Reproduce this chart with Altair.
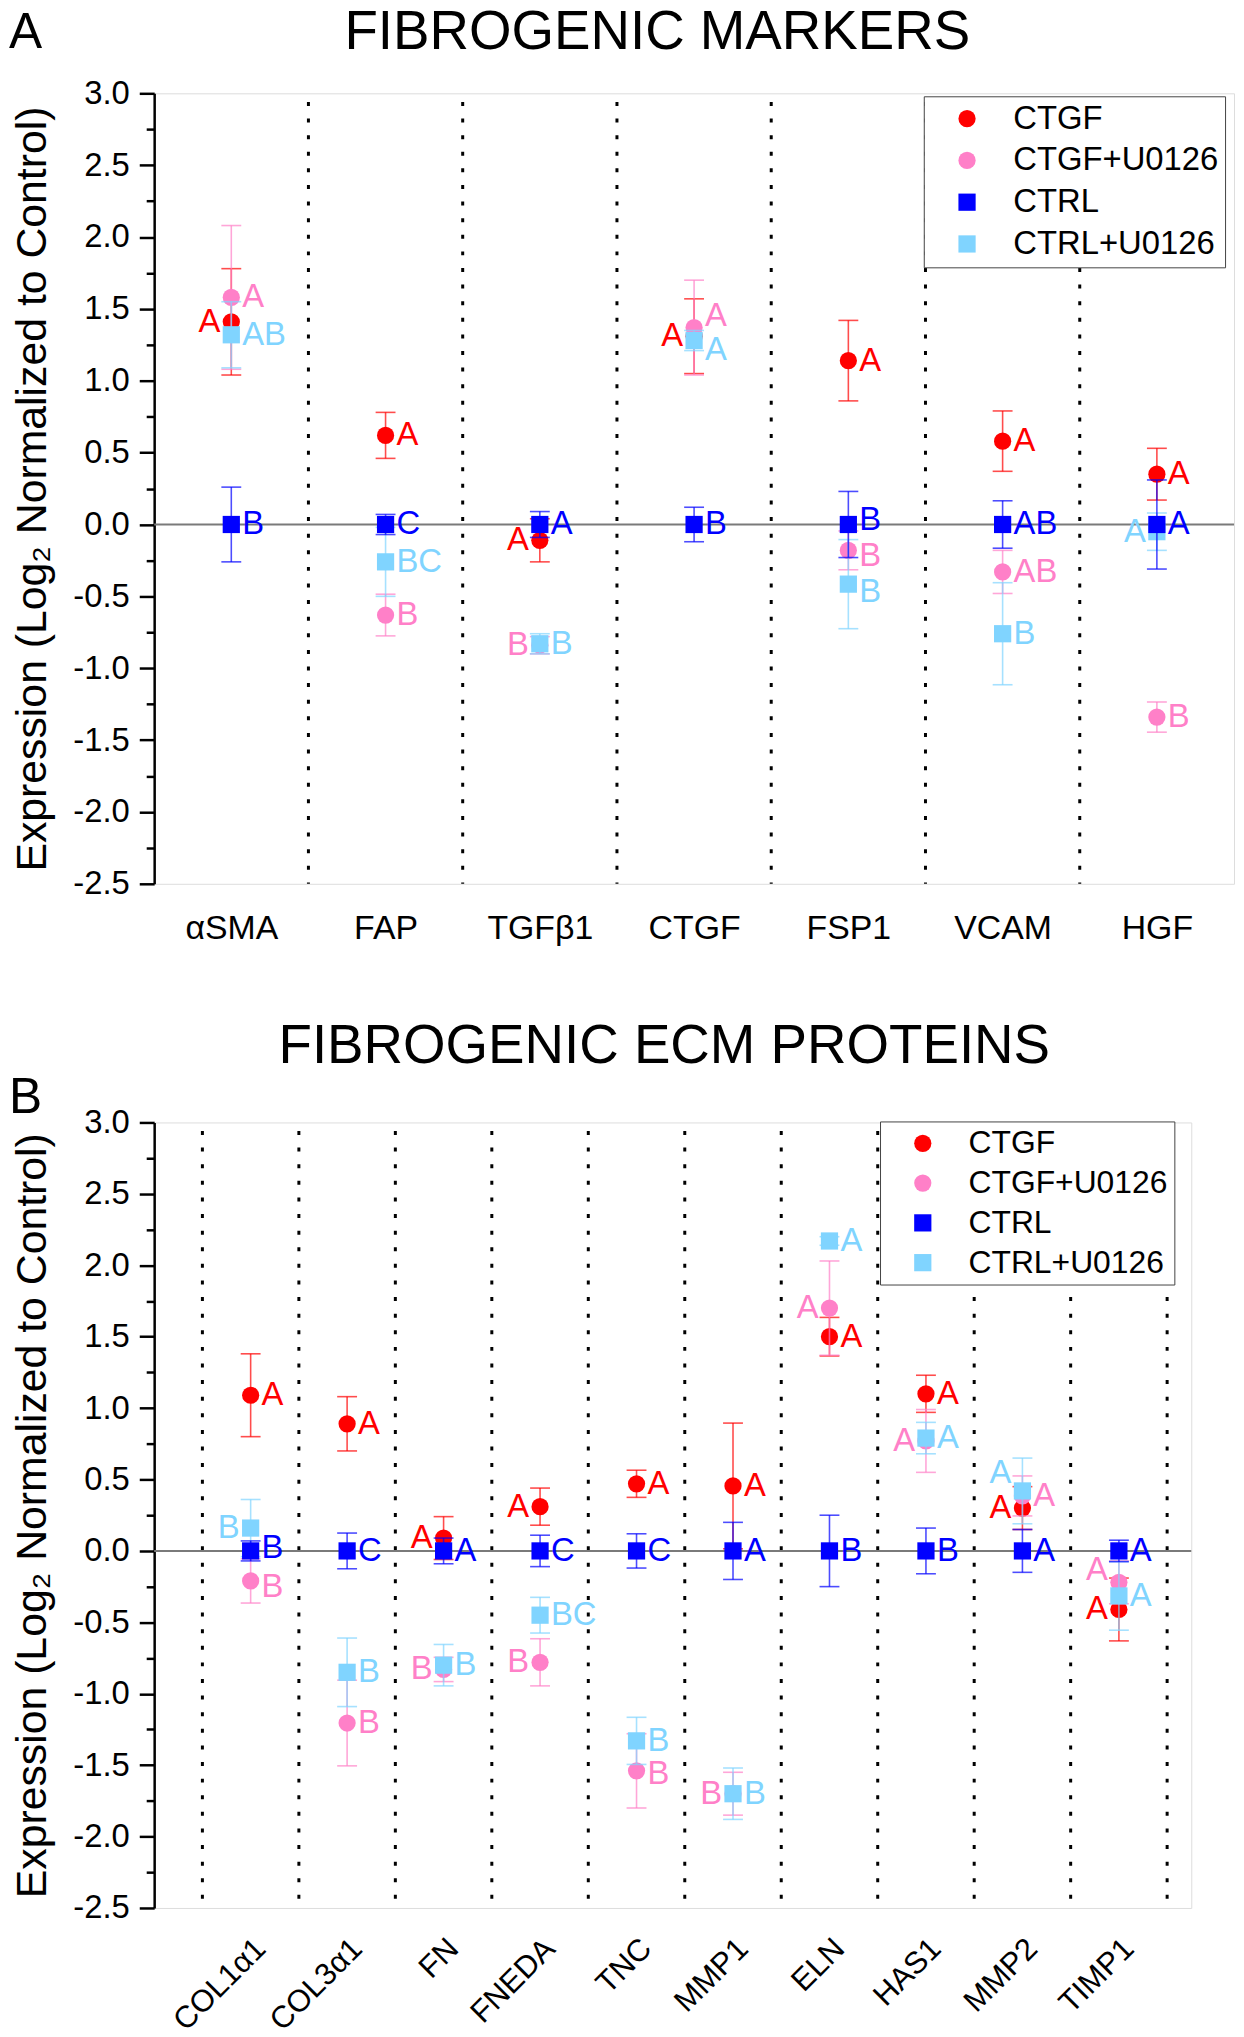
import altair as alt
import pandas as pd

FONT = "Liberation Sans"

# ---------------- series definitions ----------------
series_names = ["CTGF", "CTGF+U0126", "CTRL", "CTRL+U0126"]
series_colors = ["#FF0000", "#FF80C8", "#0000FF", "#80D4FF"]
series_shapes = ["circle", "circle", "square", "square"]
draw_order = ["CTGF", "CTGF+U0126", "CTRL+U0126", "CTRL"]

# ---------------- Panel A : fibrogenic markers ----------------
genes_a = ["αSMA", "FAP", "TGFβ1", "CTGF", "FSP1", "VCAM", "HGF"]
a_ctgf = [1.41, 0.62, -0.11, 1.31, 1.14, 0.58, 0.35]
a_ctgf_err = [0.37, 0.16, 0.15, 0.26, 0.28, 0.21, 0.18]
a_ctgfu = [1.58, -0.63, -0.84, 1.37, -0.18, -0.33, -1.34]
a_ctgfu_err = [0.50, 0.145, 0.06, 0.33, 0.135, 0.15, 0.105]
a_ctrl = [0.0, 0.0, 0.0, 0.0, 0.0, 0.0, 0.0]
a_ctrl_err = [0.26, 0.07, 0.09, 0.12, 0.23, 0.165, 0.31]
a_ctrlu = [1.32, -0.26, -0.83, 1.28, -0.415, -0.76, -0.05]
a_ctrlu_err = [0.23, 0.24, 0.07, 0.07, 0.31, 0.355, 0.13]

a_ctgf_sig = ["A", "A", "A", "A", "A", "A", "A"]
a_ctgfu_sig = ["A", "B", "B", "A", "B", "AB", "B"]
a_ctrl_sig = ["B", "C", "A", "B", "B", "AB", "A"]
a_ctrlu_sig = ["AB", "BC", "B", "A", "B", "B", "A"]

# ---------------- Panel B : fibrogenic ECM proteins ----------------
genes_b = ["COL1α1", "COL3α1", "FN", "FNEDA", "TNC", "MMP1", "ELN", "HAS1", "MMP2", "TIMP1"]
b_ctgf = [1.09, 0.89, 0.09, 0.31, 0.47, 0.455, 1.50, 1.10, 0.30, -0.41]
b_ctgf_err = [0.29, 0.19, 0.15, 0.13, 0.095, 0.44, 0.135, 0.13, 0.15, 0.22]
b_ctgfu = [-0.21, -1.205, -0.83, -0.78, -1.54, -1.70, 1.70, 0.77, 0.385, -0.22]
b_ctgfu_err = [0.155, 0.30, 0.085, 0.165, 0.26, 0.15, 0.33, 0.22, 0.14, 0.15]
b_ctrl = [0.0, 0.0, 0.0, 0.0, 0.0, 0.0, 0.0, 0.0, 0.0, 0.0]
b_ctrl_err = [0.07, 0.125, 0.09, 0.11, 0.12, 0.20, 0.25, 0.16, 0.15, 0.075]
b_ctrlu = [0.16, -0.85, -0.80, -0.45, -1.33, -1.70, 2.17, 0.79, 0.42, -0.315]
b_ctrlu_err = [0.20, 0.24, 0.145, 0.125, 0.165, 0.18, 0.03, 0.11, 0.23, 0.24]

b_ctgf_sig = ["A", "A", "A", "A", "A", "A", "A", "A", "A", "A"]
b_ctgfu_sig = ["B", "B", "B", "B", "B", "B", "A", "A", "A", "A"]
b_ctrl_sig = ["B", "C", "A", "C", "C", "A", "B", "B", "A", "A"]
b_ctrlu_sig = ["B", "B", "B", "BC", "B", "B", "A", "A", "A", "A"]

# ---------------- label placement (layout only) ----------------
sides_a = {
    "CTGF": ["L", "R", "L", "L", "R", "R", "R"],
    "CTGF+U0126": ["R", "R", "L", "R", "R", "R", "R"],
    "CTRL": ["R"] * 7,
    "CTRL+U0126": ["R", "R", "R", "R", "R", "R", "L"],
}
# label nudges in pixels (positive = downwards)
nudge_a = {("CTGF", "CTGF+U0126"): -12, ("CTGF", "CTRL+U0126"): 10,
           ("FSP1", "CTGF+U0126"): 6, ("FSP1", "CTRL"): -4, ("FSP1", "CTRL+U0126"): 8}
sides_b = {
    "CTGF": ["R", "R", "L", "L", "R", "R", "R", "R", "L", "L"],
    "CTGF+U0126": ["R", "R", "L", "L", "R", "L", "L", "L", "R", "L"],
    "CTRL": ["R"] * 10,
    "CTRL+U0126": ["L", "R", "R", "R", "R", "R", "R", "R", "L", "R"],
}
nudge_b = {("MMP2", "CTRL+U0126"): -18, ("TIMP1", "CTGF+U0126"): -12,
           ("COL1α1", "CTGF+U0126"): 6, ("COL1α1", "CTRL"): -3,
           ("TNC", "CTGF+U0126"): 3}

color_of = dict(zip(series_names, series_colors))


def build_df(genes, positions, vals, errs, sigs, sides, nudges, px_per_unit):
    rows = []
    for s in series_names:
        for i, g in enumerate(genes):
            v = vals[s][i]
            e = errs[s][i]
            rows.append(dict(gene=g, pos=positions[i], series=s, value=v,
                             lo=v - e, hi=v + e, sig=sigs[s][i],
                             side=sides[s][i],
                             ly=v - nudges.get((g, s), 0) / px_per_unit))
    return pd.DataFrame(rows)


def panel(df, genes, positions, dividers, x_max, width, height, title,
          title_x, title_y, letter, letter_y, legend_x, legend_y,
          legend_font, label_angle, label_font, label_padding, label_offset, row_pad):
    xscale = alt.Scale(domain=[0, x_max], nice=False, zero=False)
    yscale = alt.Scale(domain=[-2.5, 3.0], nice=False, zero=False)
    names_js = "[" + ",".join("'" + g + "'" for g in genes) + "]"
    pos_js = "[" + ",".join(str(p) for p in positions) + "]"
    x_axis = alt.Axis(
        values=positions, labelExpr=f"{names_js}[indexof({pos_js}, datum.value)]",
        domain=False, ticks=False, tickSize=0, grid=False, title=None,
        labelFontSize=label_font, labelFont=FONT, labelColor="black",
        labelPadding=label_padding, labelAngle=label_angle,
        labelAlign="right" if label_angle else "center",
        labelBaseline="middle" if label_angle else "top",
        labelOffset=label_offset, labelOverlap=False, labelFlush=False)
    major = "abs(datum.value*2 - round(datum.value*2)) < 0.001"
    y_axis = alt.Axis(
        values=[-2.5, -2.25, -2.0, -1.75, -1.5, -1.25, -1.0, -0.75, -0.5, -0.25,
                0.0, 0.25, 0.5, 0.75, 1.0, 1.25, 1.5, 1.75, 2.0, 2.25, 2.5, 2.75, 3.0],
        labelExpr=f"({major}) ? ((datum.value < 0 ? '-' : '') + format(abs(datum.value), '.1f')) : ''",
        tickSize={"condition": {"test": major, "value": 15}, "value": 8},
        tickWidth=2.5, tickColor="black", domainColor="black", domainWidth=2.5,
        grid=False, labelFontSize=33, labelFont=FONT, labelColor="black",
        labelPadding=10, labelOverlap=False, labelFlush=False,
        title="Expression (Log₂ Normalized to Control)", titleFontSize=43,
        titleFont=FONT, titleFontWeight="normal", titleColor="black",
        titlePadding=18)

    def X(field):
        return alt.X(field, type="quantitative", scale=xscale, axis=x_axis)

    def Y(field):
        return alt.Y(field, type="quantitative", scale=yscale, axis=y_axis)

    layers = []
    div_df = pd.DataFrame({"d": dividers, "top": [2.94] * len(dividers),
                           "bot": [-2.5] * len(dividers)})
    layers.append(alt.Chart(div_df).mark_rule(
        color="black", strokeWidth=3, strokeDash=[4, 12.7]).encode(
        x=X("d"), y=Y("top"), y2="bot"))
    zero_df = pd.DataFrame({"x0": [0.0], "x1": [x_max], "y": [0.0]})
    layers.append(alt.Chart(zero_df).mark_rule(
        color="#7a7a7a", strokeWidth=2).encode(x=X("x0"), x2="x1", y=Y("y")))

    legend = alt.Legend(
        title=None, orient="none", legendX=legend_x, legendY=legend_y,
        direction="vertical", fillColor="white", strokeColor="#444444",
        padding=6, labelFontSize=legend_font, labelFont=FONT, labelLimit=400,
        labelColor="black", symbolSize=300, symbolStrokeWidth=0,
        symbolOffset=21, labelOffset=30, rowPadding=row_pad,
        symbolOpacity=1)
    color = alt.Color("series:N", scale=alt.Scale(domain=series_names, range=series_colors),
                      legend=legend)
    shape = alt.Shape("series:N", scale=alt.Scale(domain=series_names, range=series_shapes),
                      legend=legend)

    for s in draw_order:
        sub = df[df.series == s]
        c = color_of[s]
        base = alt.Chart(sub)
        layers.append(base.mark_rule(color=c, strokeWidth=1.6, opacity=0.7).encode(
            x=X("pos"), y=Y("lo"), y2="hi"))
        layers.append(base.mark_tick(color=c, orient="horizontal", size=20,
                                     thickness=1.6, opacity=0.7).encode(x=X("pos"), y=Y("lo")))
        layers.append(base.mark_tick(color=c, orient="horizontal", size=20,
                                     thickness=1.6, opacity=0.7).encode(x=X("pos"), y=Y("hi")))
        layers.append(base.mark_point(filled=True, size=300, opacity=1).encode(
            x=X("pos"), y=Y("value"), color=color, shape=shape))

    for s in draw_order:
        sub = df[df.series == s]
        c = color_of[s]
        base = alt.Chart(sub)
        layers.append(base.transform_filter(alt.datum.side == "R").mark_text(
            align="left", baseline="middle", dx=11, fontSize=33, font=FONT, color=c).encode(
            x=X("pos"), y=Y("ly"), text="sig:N"))
        layers.append(base.transform_filter(alt.datum.side == "L").mark_text(
            align="right", baseline="middle", dx=-11, fontSize=33, font=FONT, color=c).encode(
            x=X("pos"), y=Y("ly"), text="sig:N"))

    tdf = pd.DataFrame({"t": [title]})
    layers.append(alt.Chart(tdf).mark_text(
        fontSize=55, font=FONT, align="center", baseline="alphabetic", color="black").encode(
        text="t:N", x=alt.value(title_x), y=alt.value(title_y)))
    ldf = pd.DataFrame({"t": [letter]})
    layers.append(alt.Chart(ldf).mark_text(
        fontSize=50, font=FONT, align="left", baseline="alphabetic", color="black").encode(
        text="t:N", x=alt.value(-146), y=alt.value(letter_y)))

    return alt.layer(*layers).properties(width=width, height=height)


H_A, H_B = 795, 790
pos_a = [i + 0.5 for i in range(len(genes_a))]
pos_b = [i + 1.0 for i in range(len(genes_b))]

df_a = build_df(genes_a, pos_a,
                {"CTGF": a_ctgf, "CTGF+U0126": a_ctgfu, "CTRL": a_ctrl, "CTRL+U0126": a_ctrlu},
                {"CTGF": a_ctgf_err, "CTGF+U0126": a_ctgfu_err, "CTRL": a_ctrl_err, "CTRL+U0126": a_ctrlu_err},
                {"CTGF": a_ctgf_sig, "CTGF+U0126": a_ctgfu_sig, "CTRL": a_ctrl_sig, "CTRL+U0126": a_ctrlu_sig},
                sides_a, nudge_a, H_A / 5.5)
df_b = build_df(genes_b, pos_b,
                {"CTGF": b_ctgf, "CTGF+U0126": b_ctgfu, "CTRL": b_ctrl, "CTRL+U0126": b_ctrlu},
                {"CTGF": b_ctgf_err, "CTGF+U0126": b_ctgfu_err, "CTRL": b_ctrl_err, "CTRL+U0126": b_ctrlu_err},
                {"CTGF": b_ctgf_sig, "CTGF+U0126": b_ctgfu_sig, "CTRL": b_ctrl_sig, "CTRL+U0126": b_ctrlu_sig},
                sides_b, nudge_b, H_B / 5.5)

chart_a = panel(df_a, genes_a, pos_a, [1, 2, 3, 4, 5, 6], 7.0, 1086, H_A,
                "FIBROGENIC MARKERS", 506, -45, "A", -46, 774, 3, 33, 0, 34, 28, 0, 8)
chart_b = panel(df_b, genes_b, pos_b, [p + 0.5 for p in [0] + pos_b], 10.75, 1043, H_B,
                "FIBROGENIC ECM PROTEINS", 513, -60, "B", -10, 730, -1, 32, -45, 31, 36, 10, 8)

chart = alt.vconcat(chart_a, chart_b, spacing=72).resolve_scale(
    color="independent", shape="independent", x="independent", y="independent"
).resolve_legend(color="independent", shape="independent").properties(
    padding={"left": 0, "top": -10, "right": 0, "bottom": 0}
).configure_view(stroke=None).configure(background="white", font=FONT)

chart.save("out.html", embed_options={"renderer": "svg", "actions": False})
